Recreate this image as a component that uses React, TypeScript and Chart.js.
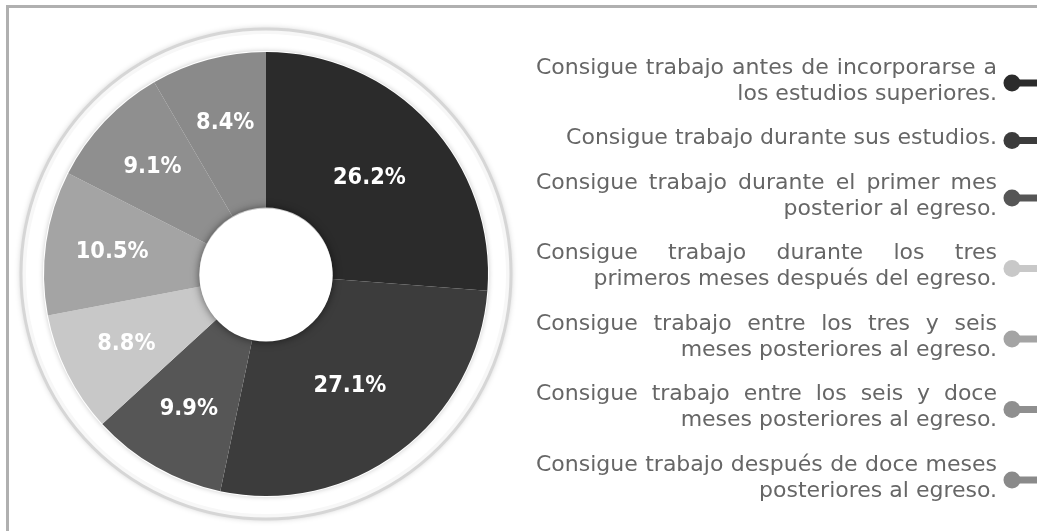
import React, { useEffect, useRef } from "react";
import { Chart, registerables } from "chart.js";

Chart.register(...registerables);

const legendLines: string[][] = [
  ["Consigue trabajo antes de incorporarse a", "los estudios superiores."],
  ["Consigue trabajo durante sus estudios."],
  ["Consigue trabajo durante el primer mes", "posterior al egreso."],
  ["Consigue trabajo durante los tres", "primeros meses después del egreso."],
  ["Consigue trabajo entre los tres y seis", "meses posteriores al egreso."],
  ["Consigue trabajo entre los seis y doce", "meses posteriores al egreso."],
  ["Consigue trabajo después de doce meses", "posteriores al egreso."],
];
const categories: string[] = legendLines.map((l) => l.join(" "));
const values: number[] = [26.2, 27.1, 9.9, 8.8, 10.5, 9.1, 8.4];
const valueLabels: string[] = ["26.2%", "27.1%", "9.9%", "8.8%", "10.5%", "9.1%", "8.4%"];
const colors: string[] = ["#2b2b2b", "#3c3c3c", "#565656", "#c8c8c8", "#a4a4a4", "#8f8f8f", "#8a8a8a"];

const LEGEND_FONT = '22px "DejaVu Sans"';
const LABEL_FONT = 'bold 21px "DejaVu Sans"';

const framePlugin = {
  id: "frame",
  beforeDraw(chart: any) {
    const ctx = chart.ctx;
    ctx.save();
    ctx.fillStyle = "#ffffff";
    ctx.fillRect(0, 0, chart.width, chart.height);
    ctx.fillStyle = "#b0b0b0";
    ctx.fillRect(7, 5, chart.width - 7, 3);
    ctx.fillRect(6, 5, 3, chart.height - 5);
    ctx.restore();
  },
};

const ringPlugin = {
  id: "ring",
  beforeDatasetsDraw(chart: any) {
    const arc = chart.getDatasetMeta(0).data[0];
    if (!arc) return;
    const { x, y, outerRadius } = arc.getProps(["x", "y", "outerRadius"], true);
    const ctx = chart.ctx;
    const R = outerRadius + 23;
    ctx.save();
    ctx.beginPath();
    ctx.arc(x, y, R, 0, Math.PI * 2);
    ctx.shadowColor = "rgba(0,0,0,0.25)";
    ctx.shadowBlur = 6;
    ctx.fillStyle = "#f7f7f7";
    ctx.fill();
    ctx.shadowColor = "transparent";
    ctx.lineWidth = 3;
    ctx.strokeStyle = "#d6d6d6";
    ctx.stroke();
    ctx.beginPath();
    ctx.arc(x, y, R - 5, 0, Math.PI * 2);
    ctx.fillStyle = "#ffffff";
    ctx.fill();
    ctx.beginPath();
    ctx.arc(x, y, outerRadius + 1, 0, Math.PI * 2);
    ctx.shadowColor = "rgba(0,0,0,0.2)";
    ctx.shadowBlur = 5;
    ctx.fillStyle = "#ffffff";
    ctx.fill();
    ctx.restore();
  },
};

const holeAndLabelsPlugin = {
  id: "holeLabels",
  afterDatasetsDraw(chart: any) {
    const meta = chart.getDatasetMeta(0);
    const ctx = chart.ctx;
    const first = meta.data[0];
    if (!first) return;
    const { x, y, innerRadius } = first.getProps(["x", "y", "innerRadius"], true);
    ctx.save();
    ctx.beginPath();
    ctx.arc(x, y + 1, innerRadius, 0, Math.PI * 2);
    ctx.shadowColor = "rgba(0,0,0,0.55)";
    ctx.shadowBlur = 9;
    ctx.fillStyle = "#ffffff";
    ctx.fill();
    ctx.restore();

    ctx.save();
    ctx.font = LABEL_FONT;
    ctx.fillStyle = "#ffffff";
    ctx.textAlign = "center";
    ctx.textBaseline = "middle";
    meta.data.forEach((el: any, i: number) => {
      const p = el.getProps(["x", "y", "startAngle", "endAngle", "outerRadius", "innerRadius"], true);
      const mid = (p.startAngle + p.endAngle) / 2;
      const half = (p.endAngle - p.startAngle) / 2;
      const R = p.outerRadius;
      const r0 = p.innerRadius;
      // centroid of the annular sector
      const rc = ((2 / 3) * (R * R * R - r0 * r0 * r0)) / (R * R - r0 * r0) * (Math.sin(half) / half);
      const lx = p.x + Math.cos(mid) * rc;
      const ly = p.y + Math.sin(mid) * rc;
      ctx.save();
      ctx.translate(lx, ly);
      ctx.scale(1, 1.12);
      ctx.fillText(valueLabels[i], 0, 0);
      ctx.restore();
    });
    ctx.restore();
  },
};

const legendPlugin = {
  id: "sideLegend",
  afterDraw(chart: any) {
    const ctx = chart.ctx;
    const left = 536;
    const right = 997;
    const width = right - left;
    const lineH = 26;
    const gap = 44.5;
    let yy = 68;
    ctx.save();
    ctx.font = LEGEND_FONT;
    ctx.textBaseline = "middle";
    legendLines.forEach((lines, i) => {
      const ys: number[] = [];
      lines.forEach((line, j) => {
        const ly = yy + j * lineH;
        ys.push(ly);
        ctx.fillStyle = "#666666";
        const isLast = j === lines.length - 1;
        if (isLast) {
          ctx.textAlign = "right";
          ctx.fillText(line, right, ly);
        } else {
          const words = line.split(" ");
          const wsum = words.reduce((s, w) => s + ctx.measureText(w).width, 0);
          const sp = words.length > 1 ? (width - wsum) / (words.length - 1) : 0;
          ctx.textAlign = "left";
          let cx = left;
          words.forEach((w) => {
            ctx.fillText(w, cx, ly);
            cx += ctx.measureText(w).width + sp;
          });
        }
      });
      const dotY = (ys[0] + ys[ys.length - 1]) / 2 + 2;
      ctx.fillStyle = colors[i];
      ctx.fillRect(1016, dotY - 3.5, chart.width - 1016, 7);
      ctx.beginPath();
      ctx.arc(1012, dotY, 8.5, 0, Math.PI * 2);
      ctx.fill();
      yy = ys[ys.length - 1] + gap;
    });
    ctx.restore();
  },
};

export default function App() {
  const canvasRef = useRef<HTMLCanvasElement | null>(null);

  useEffect(() => {
    if (!canvasRef.current) return;
    const chart = new Chart(canvasRef.current, {
      type: "doughnut",
      data: {
        labels: categories,
        datasets: [
          {
            data: values,
            backgroundColor: colors,
            borderWidth: 0,
            hoverOffset: 0,
          },
        ],
      },
      options: {
        animation: false,
        responsive: false,
        maintainAspectRatio: false,
        cutout: "30%",
        layout: { padding: { left: 44, top: 52, right: 549, bottom: 35 } },
        plugins: {
          legend: { display: false },
          tooltip: { enabled: false },
        },
        events: [],
      },
      plugins: [framePlugin, ringPlugin, holeAndLabelsPlugin, legendPlugin],
    } as any);
    return () => chart.destroy();
  }, []);

  return (
    <div style={{ position: "absolute", left: 0, top: 0, width: 1037, height: 531, background: "#fff" }}>
      <canvas ref={canvasRef} width={1037} height={531} style={{ display: "block", width: 1037, height: 531 }} />
    </div>
  );
}
